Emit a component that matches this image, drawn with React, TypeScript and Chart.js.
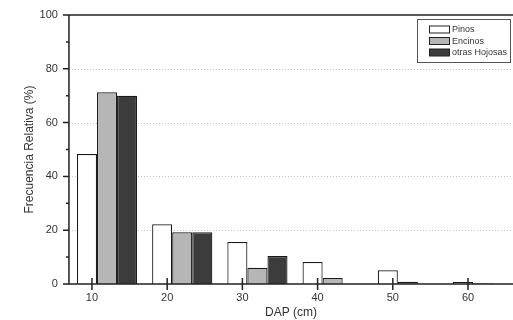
import { useEffect, useRef } from "react";
import { Chart, registerables } from "chart.js";

Chart.register(...registerables);

// ---- data ----
const dapTicks = [10, 20, 30, 40, 50, 60];
const classCenters = [12, 22, 32, 42, 52, 62];
const pinos = [48.3, 22.2, 15.6, 8.2, 5.1, 0.7];
const encinos = [71.3, 19.2, 6.0, 2.2, 0.8, 0.3];
const otrasHojosas = [70.0, 19.2, 10.4, 0, 0, 0];
const seriesLabels = ["Pinos", "Encinos", "otras Hojosas"];
const yMajorTicks = [0, 20, 40, 60, 80, 100];
const yMinorTicks = [10, 30, 50, 70, 90];
const yGridLines = [20, 40, 60, 80];

const FONT = "'Liberation Sans', Arial, Helvetica, sans-serif";
const fills = ["#ffffff", "#b6b6b6", "#3c3c3c"];

const decor = {
  id: "decor",
  beforeDatasetsDraw(chart: any) {
    const { ctx, chartArea: a, scales } = chart;
    const y = scales.y;
    ctx.save();
    ctx.strokeStyle = "#c4c4c4";
    ctx.lineWidth = 1;
    ctx.setLineDash([1, 2]);
    for (const v of yGridLines) {
      const py = Math.round(y.getPixelForValue(v)) + 0.5;
      ctx.beginPath();
      ctx.moveTo(a.left, py);
      ctx.lineTo(a.right, py);
      ctx.stroke();
    }
    ctx.restore();
  },
  afterDatasetsDraw(chart: any) {
    const { ctx, chartArea: a, scales } = chart;
    const x = scales.x;
    const y = scales.y;
    ctx.save();
    ctx.strokeStyle = "#222";
    ctx.lineWidth = 1.5;
    ctx.setLineDash([]);
    // frame: top, left, bottom
    ctx.beginPath();
    ctx.moveTo(a.left, a.top);
    ctx.lineTo(a.right, a.top);
    ctx.moveTo(a.left, a.top);
    ctx.lineTo(a.left, a.bottom);
    ctx.lineTo(a.right, a.bottom);
    ctx.stroke();
    // y major/minor ticks (outward), x ticks (crossing)
    ctx.beginPath();
    for (const v of yMajorTicks) {
      const py = y.getPixelForValue(v);
      ctx.moveTo(a.left - 6, py);
      ctx.lineTo(a.left, py);
    }
    for (const v of yMinorTicks) {
      const py = y.getPixelForValue(v);
      ctx.moveTo(a.left - 3, py);
      ctx.lineTo(a.left, py);
    }
    for (const v of dapTicks) {
      const px = x.getPixelForValue(v);
      ctx.moveTo(px, a.bottom - 6);
      ctx.lineTo(px, a.bottom + 6);
    }
    ctx.stroke();

    // legend box
    const bx = 417, by = 19, bw = 93, bh = 43;
    ctx.fillStyle = "#fff";
    ctx.fillRect(bx, by, bw, bh);
    ctx.strokeStyle = "#555";
    ctx.lineWidth = 1;
    ctx.strokeRect(bx + 0.5, by + 0.5, bw, bh);
    ctx.font = `9px ${FONT}`;
    ctx.textBaseline = "middle";
    ctx.textAlign = "left";
    chart.data.datasets.forEach((ds: any, i: number) => {
      const cy = 29.5 + i * 11.5;
      ctx.fillStyle = ds.backgroundColor;
      ctx.fillRect(429, cy - 3.5, 20, 7);
      ctx.strokeStyle = "#222";
      ctx.strokeRect(429.5, cy - 3.5, 20, 7);
      ctx.fillStyle = "#333";
      ctx.fillText(ds.label, 452, cy + 0.5);
    });
    ctx.restore();
  },
};

export default function App() {
  const ref = useRef<HTMLCanvasElement | null>(null);
  useEffect(() => {
    if (!ref.current) return;
    const series = [pinos, encinos, otrasHojosas];
    const chart = new Chart(ref.current, {
      type: "bar",
      data: {
        datasets: series.map((vals, i) => ({
          label: seriesLabels[i],
          data: classCenters.map((c, j) => ({ x: c, y: vals[j] })),
          backgroundColor: fills[i],
          borderColor: "#1a1a1a",
          borderWidth: 1.2,
          barPercentage: 1,
          categoryPercentage: 0.8,
          inflateAmount: 0,
        })),
      },
      options: {
        responsive: false,
        animation: false,
        events: [],
        layout: { padding: { left: 22.8, top: 15, right: 0, bottom: 0 } },
        plugins: { legend: { display: false }, tooltip: { enabled: false } },
        scales: {
          x: {
            type: "linear",
            offset: false,
            min: 6.94,
            max: 65.98,
            grid: { display: false, drawTicks: false, offset: false },
            border: { display: false },
            afterBuildTicks: (s: any) => {
              s.ticks = dapTicks.map((v) => ({ value: v }));
            },
            ticks: {
              padding: 7.4,
              color: "#333",
              font: { size: 11, family: FONT },
              maxRotation: 0,
              autoSkip: false,
            },
            title: {
              display: true,
              text: "DAP (cm)",
              color: "#333",
              font: { size: 12, family: FONT },
              padding: { top: -6.2, bottom: -0.2 },
            },
          },
          y: {
            min: 0,
            max: 100,
            grid: { display: false, drawTicks: false },
            border: { display: false },
            afterBuildTicks: (s: any) => {
              s.ticks = yMajorTicks.map((v) => ({ value: v }));
            },
            ticks: {
              padding: 11,
              color: "#333",
              font: { size: 11, family: FONT, lineHeight: 0.7 },
            },
            title: {
              display: true,
              text: "Frecuencia Relativa (%)",
              color: "#333",
              font: { size: 12, family: FONT },
              padding: { top: 0, bottom: -8.6 },
            },
          },
        },
      },
      plugins: [decor],
    } as any);
    return () => chart.destroy();
  }, []);
  return (
    <div style={{ position: "fixed", left: 0, top: 0, width: 513, height: 320, background: "#fff" }}>
      <canvas ref={ref} width={513} height={320} style={{ display: "block" }} />
    </div>
  );
}
